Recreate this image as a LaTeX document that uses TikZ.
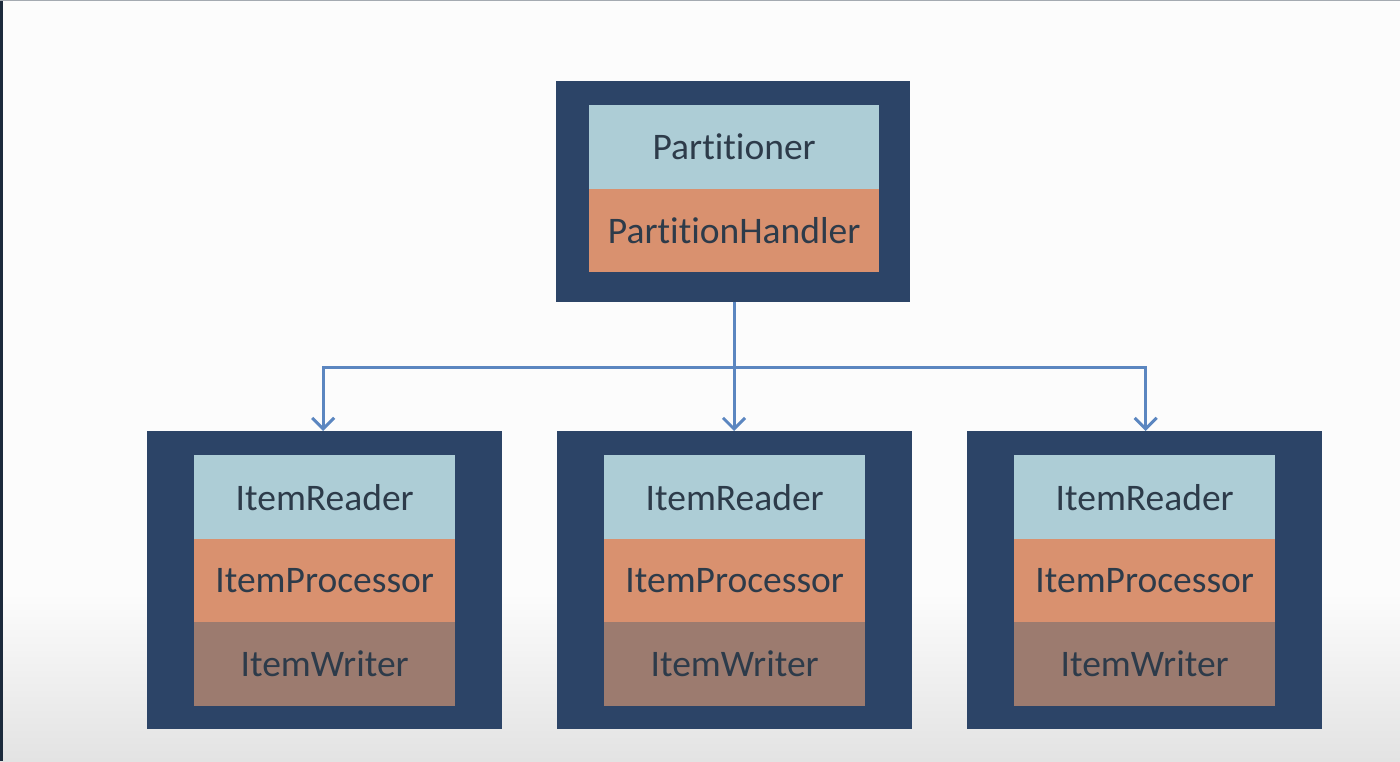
\documentclass[tikz,border=0pt]{standalone}
\usepackage{fontspec}
\setmainfont{Carlito}[Ligatures=NoCommon]
\usetikzlibrary{arrows.meta}
\definecolor{navy}{HTML}{2C4467}
\definecolor{lblue}{HTML}{ADCDD6}
\definecolor{lorange}{HTML}{D9916F}
\definecolor{lbrown}{HTML}{9C7B6F}
\definecolor{txt}{HTML}{2D3B4A}
\definecolor{arr}{HTML}{5B86C0}
\definecolor{edge}{HTML}{1C2A3C}
\begin{document}
\begin{tikzpicture}[x=1pt,y=-1pt,
  outerbox/.style={fill=navy, draw=none, inner sep=0pt, anchor=north west},
  layer/.style={draw=none, inner sep=0pt, anchor=north west, text=txt, font=\fontsize{37.5}{40}\selectfont},
  rd/.style={layer, fill=lblue},
  pr/.style={layer, fill=lorange},
  wr/.style={layer, fill=lbrown},
  conn/.style={draw=arr, line width=3pt},
  connarrow/.style={conn, -{Straight Barb[length=11pt,width=22pt,line width=3pt]}}]
\useasboundingbox (0,0) rectangle (1400,761);
\fill[white!99!black] (0,0) rectangle (1400,761);
\shade[top color=white!99!black, bottom color=white!89!black, draw=none] (0,590) rectangle (1400,761);
\fill[edge] (0,0) rectangle (3,761);
\fill[edge!40!white] (0,0) rectangle (1400,1);
% top box
\node[outerbox, minimum width=354pt, minimum height=221pt] (top) at (556,81) {};
\node[rd, minimum width=290pt, minimum height=84pt] (part) at (589,105) {Partitioner};
\node[pr, minimum width=290pt, minimum height=83pt] (ph) at (589,189) {PartitionHandler};
% bottom boxes
\foreach \i/\ox in {1/147,2/557,3/967}{
  \node[outerbox, minimum width=355pt, minimum height=298pt] (b\i) at (\ox,431) {};
  \node[rd, minimum width=261pt, minimum height=84pt] (r\i) at ({\ox+47},455) {ItemReader};
  \node[pr, minimum width=261pt, minimum height=83pt] (p\i) at ({\ox+47},539) {ItemProcessor};
  \node[wr, minimum width=261pt, minimum height=84pt] (w\i) at ({\ox+47},622) {ItemWriter};
}
\coordinate (split) at (734,367);
\draw[conn] (top.south -| split) -- (split);
\draw[connarrow] (split) -| ([xshift=-1.5pt]b1.north);
\draw[connarrow] (split) -- (split |- b2.north);
\draw[connarrow] (split) -| ([xshift=1pt]b3.north);
\end{tikzpicture}
\end{document}
